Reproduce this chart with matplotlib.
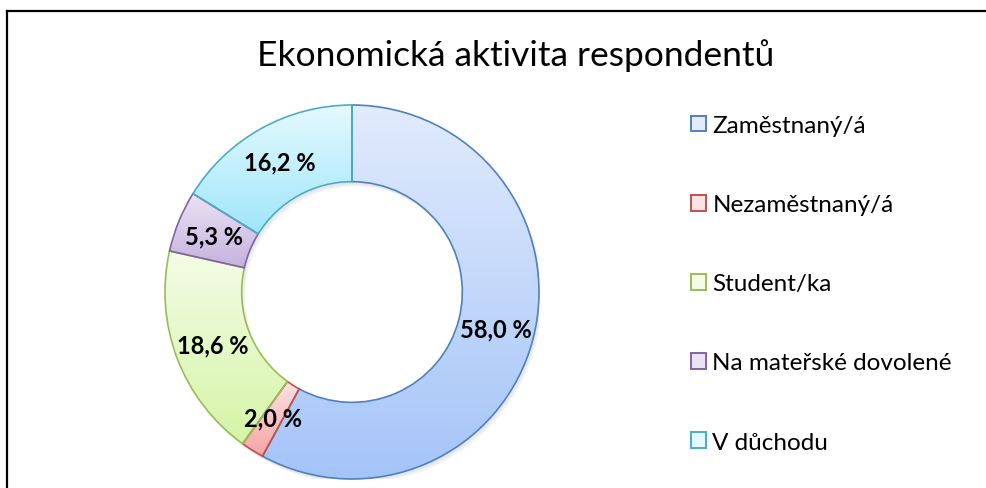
import matplotlib.pyplot as plt
import numpy as np
from matplotlib.colors import LinearSegmentedColormap
from matplotlib.patches import Patch, Wedge
from matplotlib.lines import Line2D

plt.rcParams['font.family'] = ['Lato', 'DejaVu Sans']

# data
categories = ['Zaměstnaný/á', 'Nezaměstnaný/á', 'Student/ka',
              'Na mateřské dovolené', 'V důchodu']
values = [58.0, 2.0, 18.6, 5.3, 16.2]
labels = ['58,0 %', '2,0 %', '18,6 %', '5,3 %', '16,2 %']

# colours: edge, gradient top, gradient bottom
edge_colors = ['#4f81bd', '#c0504d', '#9bbb59', '#8064a2', '#4bacc6']
top_colors = ['#e1ebfc', '#fde2e2', '#f3fce6', '#ebe3f4', '#e4f9fe']
bottom_colors = ['#a4c4f8', '#f7a4a4', '#d5f5a6', '#c4b2de', '#9fe6fa']

fig = plt.figure(figsize=(9.87, 4.89), dpi=100)
ax = fig.add_axes([(352 - 187) / 987, (489 - 293 - 187) / 489, 374 / 987, 374 / 489])

# soft shadow under the ring
for k in range(3):
    sh = Wedge((0.008 + 0.006 * k, -0.015 - 0.006 * k), 1.0, 0, 360, width=0.41,
               facecolor='#000000', alpha=0.03, edgecolor='none', zorder=0)
    ax.add_patch(sh)

wedges, _ = ax.pie(values, startangle=90, counterclock=False, radius=1.0,
                   wedgeprops=dict(width=0.41, linewidth=1.2))

for w, ec, c1, c2 in zip(wedges, edge_colors, top_colors, bottom_colors):
    w.set_facecolor('none')
    w.set_edgecolor(ec)
    w.set_zorder(3)
    bb = w.get_path().get_extents()
    cmap = LinearSegmentedColormap.from_list('g', [c1, c2])
    grad = np.linspace(0, 1, 256).reshape(-1, 1)
    im = ax.imshow(grad, cmap=cmap, aspect='auto', interpolation='bilinear',
                   extent=[bb.x0, bb.x1, bb.y0, bb.y1], origin='upper', zorder=2)
    im.set_clip_path(w)

# data labels at the middle of the ring
r_lab = 0.795
for w, lab in zip(wedges, labels):
    ang = np.deg2rad((w.theta1 + w.theta2) / 2)
    ax.text(r_lab * np.cos(ang), r_lab * np.sin(ang), lab, ha='center', va='center',
            fontsize=17, fontweight='bold', zorder=5)

ax.set_xlim(-1, 1)
ax.set_ylim(-1, 1)
ax.set_aspect('equal')
ax.axis('off')

fig.text(0.522, 1 - 56 / 489, 'Ekonomická aktivita respondentů', ha='center', va='center',
         fontsize=25.5)

handles = [Patch(facecolor=c1, edgecolor=ec, linewidth=1.4)
           for c1, ec in zip(top_colors, edge_colors)]
fig.legend(handles, categories, loc='upper left', bbox_to_anchor=(679 / 987, 1 - 104 / 489),
           frameon=False, fontsize=17.5, handlelength=0.62, handleheight=0.62,
           handletextpad=0.25, labelspacing=2.39, borderpad=0)

# outer frame (cropped at right and bottom)
fig.add_artist(Line2D([7 / 987, 1], [1 - 12 / 489, 1 - 12 / 489], color='black', lw=1.6,
                      transform=fig.transFigure))
fig.add_artist(Line2D([7 / 987, 7 / 987], [0, 1 - 12 / 489], color='black', lw=1.6,
                      transform=fig.transFigure))

fig.savefig('out.png', dpi=100)
